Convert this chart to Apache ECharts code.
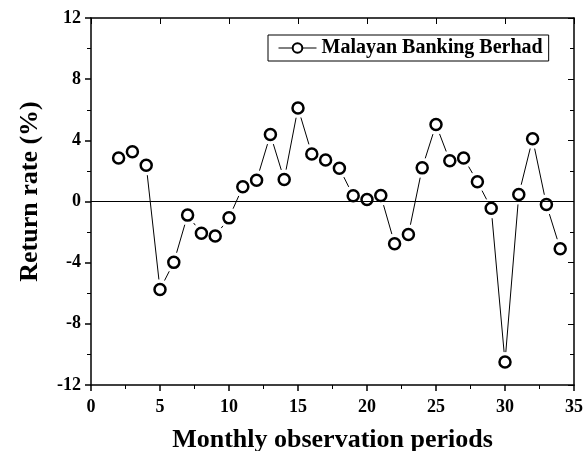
<!DOCTYPE html>
<html>
<head>
<meta charset="utf-8">
<script src="https://cdn.jsdelivr.net/npm/echarts@6/dist/echarts.min.js"></script>
<style>
  html, body { margin: 0; padding: 0; background: #fff; }
  #chart { width: 587px; height: 451px; }
</style>
</head>
<body>
<div id="chart"></div>
<script>
// Monthly return rate (%) of Malayan Banking Berhad
const periods = [2, 3, 4, 5, 6, 7, 8, 9, 10, 11, 12, 13, 14, 15, 16, 17, 18,
                 19, 20, 21, 22, 23, 24, 25, 26, 27, 28, 29, 30, 31, 32, 33, 34];
const returns = [2.85, 3.25, 2.37, -5.75, -3.98, -0.89, -2.07, -2.26, -1.07, 0.96,
                 1.39, 4.38, 1.44, 6.12, 3.11, 2.72, 2.18, 0.37, 0.13, 0.39,
                 -2.76, -2.16, 2.2, 5.03, 2.66, 2.85, 1.29, -0.44, -10.5, 0.46,
                 4.1, -0.2, -3.09];
const seriesName = 'Malayan Banking Berhad';
const xTitle = 'Monthly observation periods';
const yTitle = 'Return rate (%)';

const FONT = '"Liberation Serif", "Times New Roman", serif';
const points = periods.map((p, i) => [p, returns[i]]);
// consecutive point pairs, drawn as connector segments
const segments = points.slice(0, -1).map((p, i) => [p[0], p[1], points[i + 1][0], points[i + 1][1]]);

// connectors stop short of each open circle
const SYMBOL_GAP = 10;

const chart = echarts.init(document.getElementById('chart'), null, { renderer: 'canvas' });

const frameLine = { show: true, onZero: false, lineStyle: { color: '#000', width: 1.5 } };
const tickLab = { color: '#000', fontFamily: FONT, fontWeight: 'bold', fontSize: 18 };
const titleText = { color: '#000', fontFamily: FONT, fontWeight: 'bold', fontSize: 26 };

function renderSegment(params, api) {
  const a = api.coord([api.value(0), api.value(1)]);
  const b = api.coord([api.value(2), api.value(3)]);
  const dx = b[0] - a[0], dy = b[1] - a[1];
  const len = Math.sqrt(dx * dx + dy * dy);
  if (len <= 2 * SYMBOL_GAP) return null;
  const ux = dx / len, uy = dy / len;
  return {
    type: 'line',
    shape: {
      x1: a[0] + ux * SYMBOL_GAP, y1: a[1] + uy * SYMBOL_GAP,
      x2: b[0] - ux * SYMBOL_GAP, y2: b[1] - uy * SYMBOL_GAP
    },
    style: { stroke: '#000', lineWidth: 1 }
  };
}

chart.setOption({
  animation: false,
  backgroundColor: '#fff',
  grid: { left: 91, top: 18, width: 483, height: 367, outerBoundsMode: 'none', containLabel: false },
  legend: {
    show: true,
    left: 268,
    top: 35,
    padding: [3, 6, 3, 10],
    borderColor: '#000',
    borderWidth: 1,
    itemWidth: 38,
    itemHeight: 12,
    itemGap: 4,
    textStyle: { color: '#000', fontFamily: FONT, fontWeight: 'bold', fontSize: 20 },
    data: [{
      name: seriesName,
      lineStyle: { color: '#000', width: 1, opacity: 1 },
      itemStyle: { color: '#fff', borderColor: '#000', borderWidth: 2 }
    }]
  },
  xAxis: [{
    type: 'value', min: 0, max: 35, interval: 5,
    position: 'bottom',
    name: xTitle, nameLocation: 'middle', nameGap: 42,
    nameTextStyle: titleText,
    axisLine: frameLine,
    axisTick: { show: true, inside: false, length: 6, lineStyle: { color: '#000', width: 1.5 } },
    minorTick: { show: true, splitNumber: 2, length: 4, lineStyle: { color: '#000', width: 1 } },
    axisLabel: Object.assign({ margin: 13 }, tickLab),
    splitLine: { show: false }
  }, {
    type: 'value', min: 0, max: 35, interval: 5,
    position: 'top',
    axisLine: frameLine,
    axisTick: { show: true, inside: true, length: 6, lineStyle: { color: '#000', width: 1 } },
    axisLabel: { show: false },
    splitLine: { show: false }
  }],
  yAxis: [{
    type: 'value', min: -12, max: 12, interval: 4,
    position: 'left',
    name: yTitle, nameLocation: 'middle', nameGap: 48,
    nameTextStyle: Object.assign({ padding: [0, 0, 0, 20] }, titleText),
    axisLine: frameLine,
    axisTick: { show: true, inside: false, length: 6, lineStyle: { color: '#000', width: 1.5 } },
    minorTick: { show: true, splitNumber: 2, length: 4, lineStyle: { color: '#000', width: 1 } },
    axisLabel: Object.assign({ margin: 10 }, tickLab),
    splitLine: { show: false }
  }, {
    type: 'value', min: -12, max: 12, interval: 4,
    position: 'right',
    axisLine: frameLine,
    axisTick: { show: true, inside: true, length: 6, lineStyle: { color: '#000', width: 1 } },
    minorTick: { show: true, splitNumber: 2, length: 4, lineStyle: { color: '#000', width: 1 } },
    axisLabel: { show: false },
    splitLine: { show: false }
  }],
  series: [{
    name: 'connectors',
    type: 'custom',
    data: segments,
    encode: { x: [0, 2], y: [1, 3] },
    renderItem: renderSegment,
    silent: true,
    z: 2
  }, {
    name: seriesName,
    type: 'line',
    data: points,
    symbol: 'circle',
    symbolSize: 11,
    showAllSymbol: true,
    itemStyle: { color: '#fff', borderColor: '#000', borderWidth: 2.5 },
    lineStyle: { width: 0, opacity: 0 },
    markLine: {
      silent: true,
      symbol: 'none',
      label: { show: false },
      lineStyle: { color: '#000', width: 1, type: 'solid' },
      data: [{ yAxis: 0 }]
    },
    z: 3
  }]
});
</script>
</body>
</html>
